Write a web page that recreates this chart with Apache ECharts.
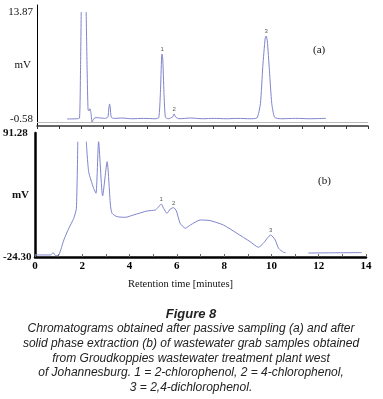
<!DOCTYPE html>
<html>
<head>
<meta charset="utf-8">
<script src="https://cdn.jsdelivr.net/npm/echarts@6/dist/echarts.min.js"></script>
<style>
    html, body { margin: 0; padding: 0; background: #fff; }
    #chromatogram { width: 383px; height: 399px; }
</style>
</head>
<body>
<div id="chromatogram"></div>
<script>
    // (a) passive sampling - retention time [min] / signal [mV], '-' = trace leaves the frame
    var topTime = [1.27, 1.70, 1.80, 1.84, 1.87, 1.97, 2.08, 2.12, 2.16, 2.20, 2.24, 2.28, 2.33, 2.40, 2.50, 2.70,
        2.90, 3.00, 3.04, 3.07, 3.10, 3.14, 3.25, 3.60, 4.00, 4.50, 5.00, 5.15, 5.22, 5.27, 5.29, 5.32, 5.37,
        5.43, 5.55, 5.74, 5.80, 5.86, 6.00, 6.50, 7.00, 7.50, 8.00, 8.50, 9.00, 9.30, 9.45, 9.55, 9.65, 9.69,
        9.74, 9.83, 9.93, 10.05, 10.30, 11.00, 11.50, 12.22];
    var topSignal = [-0.58, -0.55, -0.45, 6.0, 13.87, '-', 13.87, 6.0, 0.64, 0.50, 0.80, 0.30, -0.98, -0.55, -0.40, -0.45,
        -0.50, -0.30, 0.90, 1.45, 0.90, -0.35, -0.50, -0.45, -0.55, -0.50, -0.55, -0.40, 3.0, 7.8, 8.2, 7.5, 3.0,
        -0.35, -0.55, -0.30, 0.10, -0.30, -0.55, -0.45, -0.55, -0.50, -0.55, -0.50, -0.55, -0.45, 1.5, 6.5, 10.3, 10.63,
        10.0, 6.0, 1.5, -0.35, -0.55, -0.50, -0.55, -0.50];

    // (b) solid phase extraction
    var bottomTime = [0.02, 0.65, 0.77, 0.87, 1.01, 1.22, 1.43, 1.64, 1.75, 1.81, 2.00, 2.17, 2.27, 2.48, 2.58,
        2.69, 2.86, 3.05, 3.19, 3.26, 3.47, 3.82, 4.17, 4.74, 5.09, 5.23, 5.34, 5.44, 5.58, 5.72, 5.86, 5.98,
        6.14, 6.36, 6.57, 6.99, 7.41, 7.97, 8.54, 9.10, 9.45, 9.66, 9.97, 10.16, 10.30, 10.51, 10.60, 11.00,
        11.56, 12.50, 13.82];
    var bottomSignal = [-22.4, -22.4, -20.3, -23.1, -22.4, -8.4, 2.5, 11.8, 21.1, 83.2, '-', 83.2, 55.2, 39.7, 35.1,
        83.2, 32.6, 64.5, 24.2, 16.4, 13.3, 12.7, 14.9, 18.6, 19.5, 22.6, 25.1, 21.1, 16.4, 20.4, 21.7, 18.6,
        7.1, 2.5, 5.5, 10.2, 9.6, 5.5, -2.2, -10.0, -15.2, -11.5, -3.8, -8.4, -16.2, -19.9, -20.3, '-',
        -20.6, -20.4, -20.2];

    var topPeaks = [[5.29, '1'], [5.80, '2'], [9.69, '3']];
    var bottomPeaks = [[5.34, '1'], [5.86, '2'], [9.97, '3']];
    var topYTicks = [-0.58, 13.87];
    var bottomYTicks = [-24.30, 91.28];
    var xTickLabels = [0, 2, 4, 6, 8, 10, 12, 14];

    var captionTitle = 'Figure 8';
    var captionLines = [
        'Chromatograms obtained after passive sampling (a) and after',
        'solid phase extraction (b) of wastewater grab samples obtained',
        'from Groudkoppies wastewater treatment plant west',
        'of Johannesburg. 1 = 2-chlorophenol, 2 = 4-chlorophenol,',
        '3 = 2,4-dichlorophenol.'
    ];

    function buildData(times, values, peaks) {
        return times.map(function (t, i) {
            var item = { value: [t, values[i]] };
            peaks.forEach(function (p) {
                if (p[0] === t) {
                    item.label = { show: true, formatter: p[1] };
                }
            });
            return item;
        });
    }

    var serif = 'Liberation Serif';
    var traceColor = '#7f84cc';

    var chart = echarts.init(document.getElementById('chromatogram'));

    var graphics = [
        { type: 'text', left: 313, top: 45, style: { text: '(a)', font: '11px "Liberation Serif"', fill: '#111' } },
        { type: 'text', left: 318, top: 176, style: { text: '(b)', font: '11px "Liberation Serif"', fill: '#111' } },
        { type: 'text', x: 191, y: 314, style: { text: captionTitle, font: 'italic bold 13px "Liberation Sans"', fill: '#222', align: 'center', verticalAlign: 'middle' } }
    ];
    captionLines.forEach(function (line, i) {
        graphics.push({
            type: 'text', x: 191, y: 329 + i * 14.6,
            style: { text: line, font: 'italic 12px "Liberation Sans"', fill: '#222', align: 'center', verticalAlign: 'middle' }
        });
    });

    var peakLabel = { position: 'top', distance: 1, fontSize: 6, color: '#555', fontFamily: 'Liberation Sans' };

    var option = {
        animation: false,
        backgroundColor: '#fff',
        grid: [
            { left: 37, top: 5, width: 331, height: 121, outerBoundsMode: 'none' },
            { left: 35, top: 133, width: 331, height: 124, outerBoundsMode: 'none' }
        ],
        xAxis: [
            {
                gridIndex: 0, type: 'value', min: 0, max: 14, interval: 14 / 15,
                axisLine: { onZero: false, lineStyle: { color: '#333', width: 1.5 } },
                axisTick: { show: true, length: 3, lineStyle: { color: '#333' } },
                axisLabel: { show: false },
                splitLine: { show: false }
            },
            {
                gridIndex: 1, type: 'value', min: 0, max: 14, interval: 1,
                name: 'Retention time [minutes]',
                nameLocation: 'middle', nameGap: 22, nameMoveOverlap: false,
                nameTextStyle: { fontFamily: serif, fontSize: 10.5, color: '#111', padding: [0, 40, 0, 0] },
                axisLine: { onZero: false, lineStyle: { color: '#000', width: 2.5 } },
                axisTick: { show: true, inside: true, length: 3, lineStyle: { color: '#666' } },
                axisLabel: {
                    fontFamily: serif, fontSize: 11, fontWeight: 'bold', color: '#000', margin: 4,
                    formatter: function (v) { return xTickLabels.indexOf(v) >= 0 ? String(v) : ''; }
                },
                splitLine: { show: false }
            }
        ],
        yAxis: [
            {
                gridIndex: 0, type: 'value', min: -1.53, max: 14.82,
                name: 'mV', nameLocation: 'middle', nameRotate: 0, nameGap: 6, nameMoveOverlap: false,
                nameTextStyle: { fontFamily: serif, fontSize: 11, color: '#111' },
                axisLine: { show: true, onZero: false, lineStyle: { color: '#000', width: 1 } },
                axisTick: { show: false },
                axisLabel: {
                    customValues: topYTicks, fontFamily: serif, fontSize: 11, color: '#111', margin: 4,
                    formatter: function (v) { return v.toFixed(2); }
                },
                splitLine: { show: false }
            },
            {
                gridIndex: 1, type: 'value', min: -24.30, max: 91.28,
                name: 'mV', nameLocation: 'middle', nameRotate: 0, nameGap: 6, nameMoveOverlap: false,
                nameTextStyle: { fontFamily: serif, fontSize: 11, fontWeight: 'bold', color: '#111' },
                axisLine: { show: true, onZero: false, lineStyle: { color: '#000', width: 2.5 } },
                axisTick: { show: false },
                axisLabel: {
                    customValues: bottomYTicks, fontFamily: serif, fontSize: 11, fontWeight: 'bold', color: '#111',
                    margin: 32, align: 'left',
                    formatter: function (v) { return v.toFixed(2); }
                },
                splitLine: { show: false }
            }
        ],
        series: [
            {
                type: 'line', xAxisIndex: 0, yAxisIndex: 0,
                data: buildData(topTime, topSignal, topPeaks),
                showSymbol: true, symbol: 'circle', symbolSize: 1, smooth: 0.2,
                lineStyle: { color: traceColor, width: 1 },
                itemStyle: { color: 'rgba(0,0,0,0)' },
                label: peakLabel,
                markLine: {
                    silent: true, symbol: 'none', label: { show: false },
                    lineStyle: { color: '#bbb', type: 'solid', width: 1 },
                    data: [{ yAxis: -0.99 }]
                }
            },
            {
                type: 'line', xAxisIndex: 1, yAxisIndex: 1,
                data: buildData(bottomTime, bottomSignal, bottomPeaks),
                showSymbol: true, symbol: 'circle', symbolSize: 1, smooth: 0.2,
                lineStyle: { color: traceColor, width: 1 },
                itemStyle: { color: 'rgba(0,0,0,0)' },
                label: peakLabel
            }
        ],
        graphic: graphics
    };

    chart.setOption(option);
</script>
</body>
</html>
